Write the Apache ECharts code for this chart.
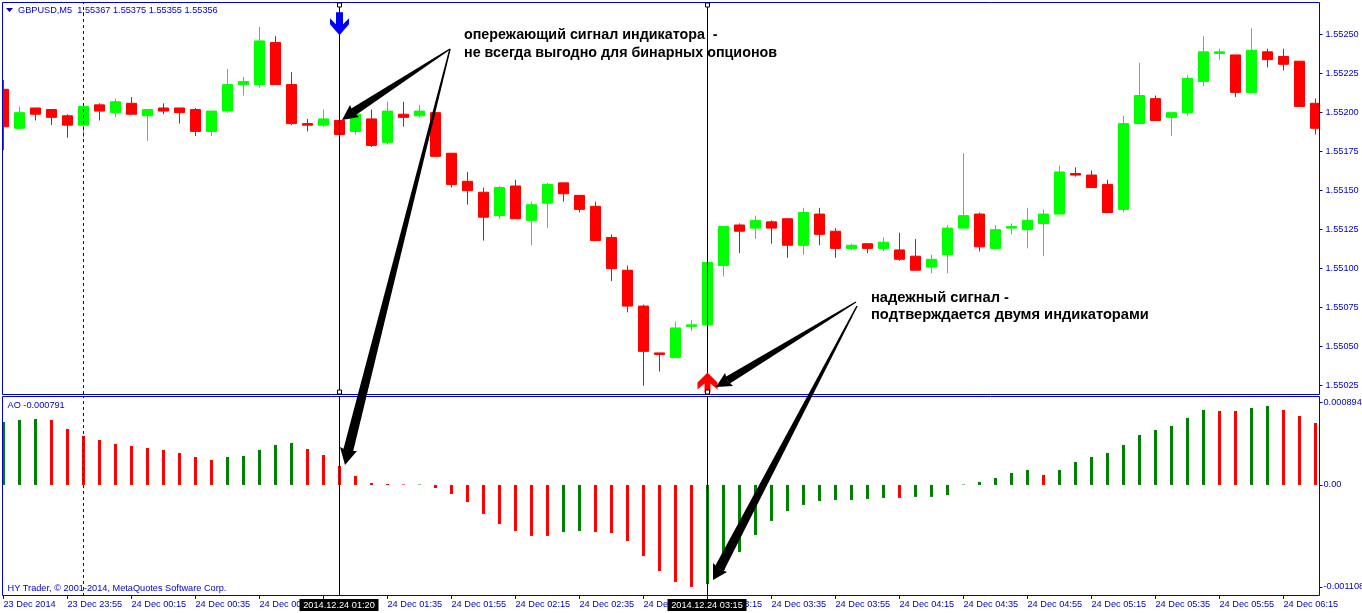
<!DOCTYPE html>
<html><head><meta charset="utf-8">
<style>html,body{margin:0;padding:0;background:#fff}#c{width:1362px;height:613px}</style>
<script src="https://cdn.jsdelivr.net/npm/echarts@6/dist/echarts.min.js"></script>
</head><body><div id="c"></div>
<script>
const categories = ["23:35","23:40","23:45","23:50","23:55","00:00","00:05","00:10","00:15","00:20","00:25","00:30","00:35","00:40","00:45","00:50","00:55","01:00","01:05","01:10","01:15","01:20","01:25","01:30","01:35","01:40","01:45","01:50","01:55","02:00","02:05","02:10","02:15","02:20","02:25","02:30","02:35","02:40","02:45","02:50","02:55","03:00","03:05","03:10","03:15","03:20","03:25","03:30","03:35","03:40","03:45","03:50","03:55","04:00","04:05","04:10","04:15","04:20","04:25","04:30","04:35","04:40","04:45","04:50","04:55","05:00","05:05","05:10","05:15","05:20","05:25","05:30","05:35","05:40","05:45","05:50","05:55","06:00","06:05","06:10","06:15","06:20","06:25"];
const tickLabels = ["23 Dec 2014","23 Dec 23:55","24 Dec 00:15","24 Dec 00:35","24 Dec 00:55","24 Dec 01:15","24 Dec 01:35","24 Dec 01:55","24 Dec 02:15","24 Dec 02:35","24 Dec 02:55","24 Dec 03:15","24 Dec 03:35","24 Dec 03:55","24 Dec 04:15","24 Dec 04:35","24 Dec 04:55","24 Dec 05:15","24 Dec 05:35","24 Dec 05:55","24 Dec 06:15"];
const priceTicks = [1.55025,1.5505,1.55075,1.551,1.55125,1.5515,1.55175,1.552,1.55225,1.5525];
const aoTicks = [-0.001108,0,0.000894];
// prices in points above 1.55000
const opens  = [215,190,203,202,198,192,205,200,206,198,203,203,202,188,201,218,218,245,218,193,192,195,188,196,181,199,198,200,174,156,149,134,153,131,142,155,147,140,120,99,76,46,43,63,64,102,128,126,130,132,115,135,124,113,116,113,112,108,101,109,126,135,113,126,125,129,135,161,160,154,138,193,209,197,200,220,238,237,213,239,236,233,206];
const closes = [191,200,199,197,192,204,201,207,199,202,201,200,188,201,218,220,246,218,193,192,196,186,199,179,201,197,201,172,154,150,133,152,132,141,154,148,138,118,100,76,47,45,62,64,104,127,124,131,126,115,136,122,113,115,113,117,106,99,106,126,134,114,125,127,131,135,162,160,152,136,193,211,195,200,222,239,239,213,240,234,231,204,190];
const highs  = [221,204,203,202,199,204,206,209,210,202,206,203,203,201,228,223,255,249,226,196,202,195,199,202,207,207,205,200,174,162,152,153,157,143,155,155,147,143,122,102,77,46,66,67,104,127,129,134,131,132,139,139,126,116,116,120,123,119,109,128,174,136,128,129,139,138,166,165,163,157,198,232,211,200,224,249,241,237,254,241,241,233,209];
const lows   = [176,190,195,192,184,184,195,197,199,182,199,193,185,185,200,211,216,218,192,188,191,186,186,178,180,191,197,172,152,141,118,132,132,115,126,143,136,118,92,72,25,34,43,60,64,95,110,119,116,107,109,115,107,112,110,111,105,99,97,97,126,111,113,122,113,108,135,159,152,136,136,193,195,185,198,217,234,210,213,229,227,204,186];
const aoValues = [0.000685,0.000706,0.000717,0.000706,0.000609,0.000533,0.000489,0.000446,0.000424,0.000402,0.00038,0.000348,0.000304,0.000272,0.000304,0.000315,0.00038,0.000435,0.000456,0.000391,0.000326,0.000207,0.000098,0.000022,0.000011,0.000006,0.000005,-0.000033,-0.000098,-0.000185,-0.000315,-0.000424,-0.0005,-0.000554,-0.000554,-0.000511,-0.0005,-0.000511,-0.000522,-0.000609,-0.000772,-0.000935,-0.001054,-0.001108,-0.001076,-0.000924,-0.000728,-0.000543,-0.000391,-0.000283,-0.000217,-0.000174,-0.000163,-0.000163,-0.000152,-0.000141,-0.000141,-0.00013,-0.00013,-0.000109,0.000005,0.000033,0.000076,0.00013,0.000163,0.000109,0.000163,0.00025,0.000304,0.000348,0.000435,0.000543,0.000598,0.000641,0.000728,0.000815,0.000804,0.000804,0.000837,0.000859,0.000815,0.00075,0.000674];
const aoRising = [1,1,1,0,0,0,0,0,0,0,0,0,0,0,1,1,1,1,1,0,0,0,0,0,0,0,1,0,0,0,0,0,0,0,0,1,1,0,0,0,0,0,0,0,1,1,1,1,1,1,1,1,1,1,1,1,0,1,1,1,1,1,1,1,1,0,1,1,1,1,1,1,1,1,1,1,0,0,1,1,0,0,0];
const signalDown = [21, 1.55257];
const signalUp = [44, 1.55027];
const crossIdx = [21, 44];
const dashedIdx = 5;

const BLUE = '#0000cc', FONT = '"Liberation Sans",Arial,sans-serif', FS = 9.2;
const pr = v => 1.55 + v / 100000;
const candleData = opens.map((o, i) => [pr(o), pr(closes[i]), pr(lows[i]), pr(highs[i])]);
const aoData = aoValues.map((v, i) => ({value: v, itemStyle: {color: aoRising[i] ? '#008000' : '#ff0000'}}));
const vline = (color, type, data) => ({silent: true, symbol: 'none', animation: false, label: {show: false},
  lineStyle: {color, type, width: 1}, emphasis: {disabled: true}, data});

function arrow(s, tip, w1, w2, neckW) {
  const nx = (w1[0] + w2[0]) / 2, ny = (w1[1] + w2[1]) / 2;
  let dx = nx - s[0], dy = ny - s[1]; const L = Math.hypot(dx, dy); dx /= L; dy /= L;
  const px = -dy, py = dx;
  const mid = [nx + (tip[0]-nx)*0.12, ny + (tip[1]-ny)*0.12];
  return [{type:'polygon', z:40, silent:true, shape:{points:[
      [s[0]+px*0.7,s[1]+py*0.7],[mid[0]+px*neckW/2,mid[1]+py*neckW/2],[mid[0]-px*neckW/2,mid[1]-py*neckW/2],[s[0]-px*0.7,s[1]-py*0.7]]},style:{fill:'#000'}},
    {type:'polygon', z:40, silent:true, shape:{points:[tip,w1,mid,w2]},style:{fill:'#000'}}];
}
const txt = (x, y, text, color, font, extra) => ({type:'text', x, y, z:60, silent:true, style:Object.assign({text, fill:color, font, textVerticalAlign:'middle'}, extra||{})});
const anchor = (x, y) => ({type:'rect', z:45, silent:true, shape:{x:x-2, y:y-2, width:4, height:4}, style:{fill:'#fff', stroke:'#000', lineWidth:1}});
const tag = (x, w, text) => [{type:'rect', z:55, silent:true, shape:{x, y:599, width:w, height:12}, style:{fill:'#000'}},
  txt(x+w/2, 605, text, '#fff', FS+'px '+FONT, {textAlign:'center'})];
const BOLD_A = 'bold 14.3px ' + FONT, BOLD_B = 'bold 14.7px ' + FONT;

const option = {
  animation: false, backgroundColor: '#fff',
  grid: [
    {left: -4.5, width: 1328, top: 3, height: 391, outerBoundsMode:'none', containLabel:false},
    {left: -4.5, width: 1328, top: 396, height: 200, outerBoundsMode:'none', containLabel:false}
  ],
  xAxis: [
    {type:'category', gridIndex:0, data:categories, axisLine:{show:false,onZero:false}, axisTick:{show:false}, axisLabel:{show:false}, splitLine:{show:false}},
    {type:'category', gridIndex:1, data:categories, position:'bottom', z:20, axisLine:{show:false,onZero:false},
     axisTick:{show:true, interval:3, alignWithLabel:true, length:3, lineStyle:{color:BLUE}},
     axisLabel:{interval:3, align:'left', margin:4, color:BLUE, fontFamily:FONT, fontSize:FS,
       formatter:(v,i)=>tickLabels[i/4]}, splitLine:{show:false}}
  ],
  yAxis: [
    {type:'value', gridIndex:0, position:'right', offset:-4, z:100, min:1.5501966, max:1.552703,
     axisLine:{show:false}, splitLine:{show:false},
     axisTick:{show:true, length:3, lineStyle:{color:BLUE}, customValues:priceTicks},
     axisLabel:{color:BLUE, fontFamily:FONT, fontSize:FS, margin:6, customValues:priceTicks, formatter:v=>v.toFixed(5)}},
    {type:'value', gridIndex:1, position:'right', offset:-4, z:100, min:-0.001207, max:0.000967,
     axisLine:{show:false}, splitLine:{show:false},
     axisTick:{show:true, length:3, lineStyle:{color:BLUE}, customValues:aoTicks},
     axisLabel:{color:BLUE, fontFamily:FONT, fontSize:FS, margin:4, customValues:aoTicks, formatter:v=>v===0?'0.00':v.toFixed(6)}}
  ],
  series: [
    {type:'line', xAxisIndex:0, yAxisIndex:0, z:1, data:[], markLine:vline('#000','solid',crossIdx.map(i=>({xAxis:i})))},
    {type:'line', xAxisIndex:0, yAxisIndex:0, z:1, data:[], markLine:vline(BLUE,[3,3],[{xAxis:dashedIdx}])},
    {type:'candlestick', name:'GBPUSD,M5', xAxisIndex:0, yAxisIndex:0, z:2, data:candleData, barWidth:10,
     itemStyle:{color:'#00ff00', color0:'#ff0000', borderColor:'#00ff00', borderColor0:'#ff0000', borderWidth:1}},
    {type:'scatter', name:'Сигнал вниз', xAxisIndex:0, yAxisIndex:0, silent:true, z:6, data:[signalDown],
     symbol:'path://M6 0H13V12L19 6V12L9.5 23L0 12V6L6 12Z', symbolSize:[19,23], symbolKeepAspect:false, itemStyle:{color:'#0000ff',opacity:1}},
    {type:'scatter', name:'Сигнал вверх', xAxisIndex:0, yAxisIndex:0, silent:true, z:6, data:[signalUp],
     symbol:'path://M10 0L20 10V17L13 11V20H7V11L0 17V10Z', symbolSize:[20,20], symbolKeepAspect:false, itemStyle:{color:'#ff0000',opacity:1}},
    {type:'line', xAxisIndex:1, yAxisIndex:1, z:1, data:[], markLine:vline('#000','solid',crossIdx.map(i=>({xAxis:i})))},
    {type:'line', xAxisIndex:1, yAxisIndex:1, z:1, data:[], markLine:vline(BLUE,[3,3],[{xAxis:dashedIdx}])},
    {type:'bar', name:'AO', xAxisIndex:1, yAxisIndex:1, z:2, data:aoData, barWidth:3}
  ],
  graphic: {elements: [
    {type:'rect', z:30, silent:true, shape:{x:0,y:0,width:2.5,height:600}, style:{fill:'#fff'}},
    {type:'rect', z:30, silent:true, shape:{x:1320,y:0,width:5,height:600}, style:{fill:'#fff'}},
    {type:'rect', z:35, silent:true, shape:{x:2.5,y:2.5,width:1317,height:392}, style:{fill:'none',stroke:BLUE,lineWidth:1}},
    {type:'rect', z:35, silent:true, shape:{x:2.5,y:396.5,width:1317,height:199}, style:{fill:'none',stroke:BLUE,lineWidth:1}},
    {type:'polygon', z:60, silent:true, shape:{points:[[6,8],[13,8],[9.5,12]]}, style:{fill:'#0000aa'}},
    txt(18, 10, 'GBPUSD,M5  1.55367 1.55375 1.55355 1.55356', BLUE, FS+'px '+FONT),
    txt(7.5, 405.5, 'AO -0.000791', BLUE, FS+'px '+FONT),
    txt(7.5, 588, 'HY Trader, © 2001-2014, MetaQuotes Software Corp.', BLUE, FS+'px '+FONT),
    txt(464, 35, 'опережающий сигнал индикатора  -', '#000', BOLD_A),
    txt(464, 53, 'не всегда выгодно для бинарных опционов', '#000', BOLD_A),
    txt(871, 298, 'надежный сигнал -', '#000', BOLD_B),
    txt(871, 315, 'подтверждается двумя индикаторами', '#000', BOLD_B),
    anchor(339.5,5), anchor(707.5,5), anchor(339.5,392), anchor(707.5,392),
    ...arrow([450,49],[342,120],[350,105],[359,117],8),
    ...arrow([450,49],[345,465],[340,447],[357,451],10),
    ...arrow([856,302],[716,387],[725,373],[733,386],8),
    ...arrow([857,306],[713,580],[713,563],[727,572],10),
    ...tag(299.5,79,'2014.12.24 01:20'),
    ...tag(667.5,79,'2014.12.24 03:15')
  ]}
};
const chart = echarts.init(document.getElementById('c'), null, {renderer:'canvas'});
chart.setOption(option);
</script></body></html>
